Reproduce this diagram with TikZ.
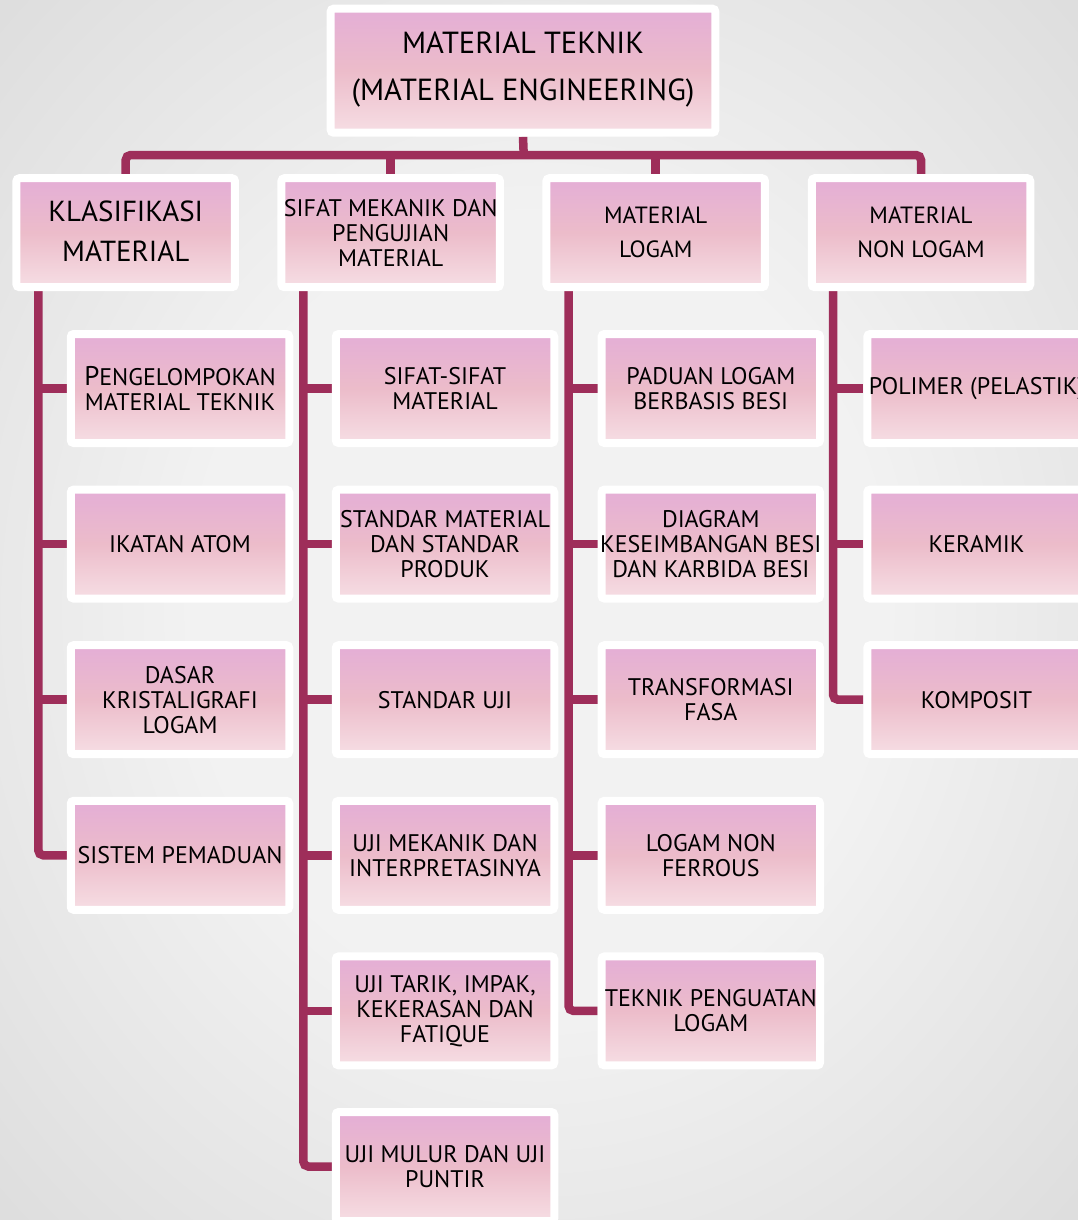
\documentclass[tikz,border=0pt]{standalone}
\usepackage{fontspec}
\setmainfont{PT Sans}
\usetikzlibrary{backgrounds}
\definecolor{connc}{RGB}{158,46,90}
\definecolor{pkT}{RGB}{228,174,214}
\definecolor{pkM}{RGB}{236,188,202}
\definecolor{pkB}{RGB}{246,222,228}
\definecolor{bgA}{RGB}{242,242,242}
\definecolor{bgB}{RGB}{206,206,206}
\definecolor{bgC}{RGB}{172,172,172}
\pgfdeclareradialshading{bgshade}{\pgfpoint{0bp}{0bp}}{color(0bp)=(bgA); color(16bp)=(bgA); color(50bp)=(bgB); color(72bp)=(bgC)}
\begin{document}
\begin{tikzpicture}[x=1pt,y=-1pt,
  box/.style={draw=white, line width=8pt, rounded corners=3pt, top color=pkT, bottom color=pkB, middle color=pkM, minimum width=218.5pt, minimum height=109pt, inner sep=0pt},
  txt/.style={font=\fontsize{24}{25}\selectfont, align=center, inner sep=0pt, text=black},
  conn/.style={draw=connc, line width=8.5pt, rounded corners=5pt}]
\useasboundingbox (0,0) rectangle (1078,1220);
\clip (0,0) rectangle (1078,1220);
% top
\node[box, minimum width=384.7pt, minimum height=124pt] (top) at (523,70.7) {};
\node[txt, font=\fontsize{30.5}{47}\selectfont] (topt) at (523,69.5) {MATERIAL TEKNIK\\(MATERIAL ENGINEERING)};
% level 2
\node[box] (k) at (125.7,232.7) {};
\node[txt, font=\fontsize{29}{40}\selectfont] (kt) at (125.7,231.5) {KLASIFIKASI\\MATERIAL};
\node[box] (s) at (390.7,232.7) {};
\node[txt] (st) at (s) {SIFAT MEKANIK DAN\\PENGUJIAN\\MATERIAL};
\node[box] (m) at (655.7,232.7) {};
\node[txt, font=\fontsize{23.5}{34}\selectfont] (mt) at (m) {MATERIAL\\LOGAM};
\node[box] (n) at (921,232.7) {};
\node[txt, font=\fontsize{23.5}{34}\selectfont] (nt) at (n) {MATERIAL\\NON LOGAM};
% column 1
\node[box] (k1) at (180,388.5) {};
\node[txt] (k1t) at (k1) {{\fontsize{27}{25}\selectfont P}ENGELOMPOKAN\\MATERIAL TEKNIK};
\node[box] (k2) at (180,544.1) {};
\node[txt] (k2t) at (k2) {IKATAN ATOM};
\node[box] (k3) at (180,699.7) {};
\node[txt] (k3t) at (k3) {DASAR\\KRISTALIGRAFI\\LOGAM};
\node[box] (k4) at (180,855.3) {};
\node[txt] (k4t) at (k4) {SISTEM PEMADUAN};
% column 2
\node[box] (s1) at (445,388.5) {};
\node[txt] (s1t) at (s1) {SIFAT-SIFAT\\MATERIAL};
\node[box] (s2) at (445,544.1) {};
\node[txt] (s2t) at (s2) {STANDAR MATERIAL\\DAN STANDAR\\PRODUK};
\node[box] (s3) at (445,699.7) {};
\node[txt] (s3t) at (s3) {STANDAR UJI};
\node[box] (s4) at (445,855.3) {};
\node[txt] (s4t) at (s4) {UJI MEKANIK DAN\\INTERPRETASINYA};
\node[box] (s5) at (445,1010.9) {};
\node[txt] (s5t) at (s5) {UJI TARIK, IMPAK,\\KEKERASAN DAN\\FATIQUE};
\node[box] (s6) at (445,1166.5) {};
\node[txt] (s6t) at (s6) {UJI MULUR DAN UJI\\PUNTIR};
% column 3
\node[box] (m1) at (710.8,388.5) {};
\node[txt] (m1t) at (m1) {PADUAN LOGAM\\BERBASIS BESI};
\node[box] (m2) at (710.8,544.1) {};
\node[txt] (m2t) at (m2) {DIAGRAM\\KESEIMBANGAN BESI\\DAN KARBIDA BESI};
\node[box] (m3) at (710.8,699.7) {};
\node[txt] (m3t) at (m3) {TRANSFORMASI\\FASA};
\node[box] (m4) at (710.8,855.3) {};
\node[txt] (m4t) at (m4) {LOGAM NON\\FERROUS};
\node[box] (m5) at (710.8,1010.9) {};
\node[txt] (m5t) at (m5) {TEKNIK PENGUATAN\\LOGAM};
% column 4
\node[box] (n1) at (976.5,388.5) {};
\node[txt] (n1t) at (n1) {\makebox[0pt]{POLIMER (PELASTIK)}};
\node[box] (n2) at (976.5,544.1) {};
\node[txt] (n2t) at (n2) {KERAMIK};
\node[box] (n3) at (976.5,699.7) {};
\node[txt] (n3t) at (n3) {KOMPOSIT};
% connectors
\coordinate (bus) at (523.7,155);
\coordinate (t1) at (38.3,280);
\coordinate (t2) at (303.3,280);
\coordinate (t3) at (568.5,280);
\coordinate (t4) at (833,280);
\begin{pgfonlayer}{background}
\fill[shading=bgshade] (0,0) rectangle (1078,1220);
\draw[conn] (k.north) |- (bus) -| (n.north);
\draw[conn] (top.south) -- (bus);
\draw[conn] (s.north) -- (s.north |- bus);
\draw[conn] (m.north) -- (m.north |- bus);
\draw[conn] (t1) |- (k4.west);
\foreach \c in {k1,k2,k3} \draw[conn] (t1 |- \c.west) -- (\c.west);
\draw[conn] (t2) |- (s6.west);
\foreach \c in {s1,s2,s3,s4,s5} \draw[conn] (t2 |- \c.west) -- (\c.west);
\draw[conn] (t3) |- (m5.west);
\foreach \c in {m1,m2,m3,m4} \draw[conn] (t3 |- \c.west) -- (\c.west);
\draw[conn] (t4) |- (n3.west);
\foreach \c in {n1,n2} \draw[conn] (t4 |- \c.west) -- (\c.west);
\end{pgfonlayer}
\end{tikzpicture}
\end{document}
